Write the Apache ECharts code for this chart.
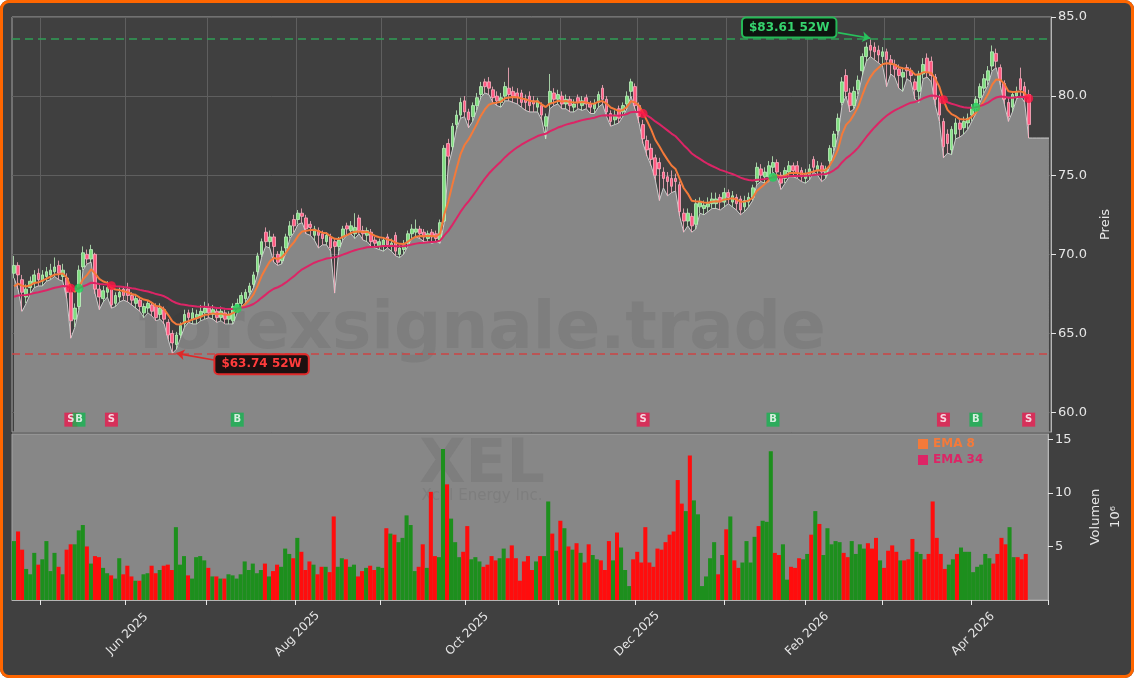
<!DOCTYPE html>
<html>
<head>
<meta charset="utf-8">
<title>XEL</title>
<script src="https://cdn.jsdelivr.net/npm/echarts@6/dist/echarts.min.js"></script>
<style>
  html, body { margin: 0; padding: 0; background: #ffffff; }
  #wrap { position: relative; width: 1134px; height: 678px; }
  #chart { position: absolute; left: 0; top: 0; width: 1134px; height: 678px; background: #404040; border-radius: 9px; }
  #frame { position: absolute; left: 0; top: 0; width: 1134px; height: 678px; box-sizing: border-box;
           border: 3px solid #ff6600; border-radius: 9px; pointer-events: none; }
</style>
</head>
<body>
<div id="wrap"><div id="chart"></div><div id="frame"></div></div>
<script>
// XEL – Kerzen mit EMA 8 / EMA 34, darunter Volumen

// Kerzen je Monat: [open, close, low, high]
const apr25 = [
  [68.8, 69.3, 68.5, 69.9], [69.3, 68.7, 67.8, 69.5], [68.4, 67.6, 66.4, 68.7], [67.3, 67.8, 66.9, 68.1],
  [67.9, 68.3, 67.5, 68.6], [68.2, 68.7, 67.9, 69.0], [68.8, 68.4, 68.0, 69.1]
];
const may25 = [
  [68.3, 68.7, 68.0, 69.0], [68.6, 68.9, 68.3, 69.2], [68.7, 69.0, 68.4, 69.4], [68.9, 69.2, 68.6, 69.8],
  [69.3, 68.8, 68.4, 69.6], [68.6, 69.0, 68.3, 69.4], [68.5, 67.6, 67.2, 68.8], [67.6, 65.8, 64.7, 67.8],
  [65.9, 66.6, 65.4, 66.9], [66.7, 69.0, 66.5, 69.3], [69.2, 70.1, 69.0, 70.5], [70.0, 69.7, 69.4, 70.3],
  [69.7, 70.3, 69.5, 70.6], [70.0, 67.8, 67.5, 70.1], [67.8, 67.3, 66.5, 68.1], [67.2, 67.7, 67.0, 68.0],
  [67.6, 67.9, 67.3, 68.3], [67.8, 66.8, 66.6, 67.9], [66.9, 67.4, 66.7, 67.6], [67.3, 67.6, 67.0, 67.9],
  [67.8, 67.4, 67.1, 68.0]
];
const jun25 = [
  [67.8, 67.4, 67.0, 68.2], [67.4, 67.1, 66.8, 67.6], [66.9, 67.2, 66.6, 67.5], [67.1, 66.7, 66.4, 67.3],
  [66.3, 66.7, 66.0, 66.9], [66.6, 66.9, 66.3, 67.1], [66.8, 66.4, 66.1, 67.0], [66.7, 66.0, 65.8, 66.9],
  [66.2, 66.6, 65.9, 66.9], [66.5, 65.9, 65.6, 66.7], [65.7, 64.9, 64.6, 65.9], [65.0, 64.4, 63.74, 65.2],
  [64.3, 64.9, 64.0, 65.1], [64.9, 65.5, 64.7, 65.7], [65.6, 66.2, 65.4, 66.5], [66.3, 66.0, 65.7, 66.5],
  [65.9, 66.3, 65.6, 66.6], [66.0, 66.2, 65.6, 66.5], [66.1, 66.4, 65.8, 66.8], [66.3, 66.6, 65.9, 67.0]
];
const jul25 = [
  [66.6, 66.3, 66.0, 66.9], [66.2, 66.5, 65.9, 66.8], [66.4, 66.0, 65.7, 66.6], [66.0, 66.4, 65.8, 66.7],
  [66.3, 65.9, 65.6, 66.5], [65.9, 66.2, 65.6, 66.4], [65.8, 66.7, 65.6, 66.9], [66.6, 66.9, 66.3, 67.2],
  [66.9, 67.4, 66.7, 67.6], [67.2, 67.6, 66.9, 67.8], [67.6, 68.0, 67.4, 68.2], [68.1, 68.7, 67.9, 68.9],
  [68.9, 69.9, 68.7, 70.1], [70.0, 70.8, 69.8, 71.0], [71.4, 70.8, 70.5, 71.7], [70.8, 71.1, 70.4, 71.5],
  [71.1, 70.5, 69.5, 71.3], [70.0, 69.5, 69.3, 70.2], [69.6, 70.2, 69.4, 70.5], [70.4, 71.1, 70.1, 71.3],
  [71.2, 71.8, 71.0, 72.1], [72.2, 71.8, 71.4, 72.5]
];
const aug25 = [
  [72.2, 72.6, 71.9, 72.8], [72.6, 72.4, 72.0, 72.9], [72.3, 71.6, 71.3, 72.5], [71.9, 71.7, 71.2, 72.1],
  [71.2, 71.6, 70.9, 71.8], [71.5, 71.2, 70.4, 71.7], [71.3, 71.0, 70.6, 71.5], [70.8, 71.2, 70.6, 71.4],
  [71.1, 70.4, 70.2, 71.3], [70.8, 70.5, 67.55, 71.0], [70.5, 70.9, 70.2, 71.1], [71.1, 71.6, 70.9, 71.8],
  [71.8, 71.6, 71.2, 72.0], [71.5, 71.8, 71.3, 72.1], [71.3, 71.7, 71.0, 72.6], [72.3, 71.5, 71.3, 72.5],
  [71.5, 71.3, 70.9, 71.8], [71.2, 71.5, 70.8, 71.7], [71.4, 70.8, 70.5, 71.6], [70.9, 70.7, 70.4, 71.1],
  [70.5, 70.8, 70.3, 71.0]
];
const sep25 = [
  [70.5, 70.9, 70.2, 71.1], [71.1, 70.6, 70.4, 71.3], [70.5, 70.7, 70.2, 71.0], [71.2, 70.2, 69.9, 71.4],
  [70.0, 70.4, 69.8, 70.6], [70.3, 70.6, 70.0, 70.9], [70.7, 71.3, 70.5, 71.5], [71.3, 71.6, 71.0, 71.9],
  [71.4, 71.6, 71.1, 72.2], [71.6, 71.3, 71.0, 71.8], [71.4, 71.1, 70.8, 71.6], [71.0, 71.3, 70.8, 71.5],
  [71.4, 71.1, 70.7, 71.6], [71.3, 71.0, 70.8, 71.5], [70.9, 72.0, 70.7, 72.2], [72.1, 76.7, 72.0, 76.9],
  [77.0, 76.2, 75.6, 77.3], [76.8, 78.1, 76.6, 78.3], [78.2, 78.8, 77.9, 79.1], [78.8, 79.6, 78.6, 79.9],
  [79.7, 79.0, 78.7, 80.0]
];
const oct25 = [
  [79.0, 78.5, 78.0, 79.2], [78.7, 79.4, 78.4, 79.6], [79.4, 79.9, 79.1, 80.2], [80.1, 80.6, 79.9, 80.9],
  [80.9, 80.6, 80.2, 81.1], [80.9, 80.5, 80.1, 81.2], [80.4, 79.9, 79.6, 80.6], [80.0, 79.7, 79.4, 80.3],
  [79.6, 79.9, 79.3, 80.2], [80.0, 80.6, 79.7, 80.9], [80.5, 80.1, 79.7, 81.8], [80.3, 80.0, 79.6, 80.6],
  [80.2, 79.9, 79.5, 80.5], [80.2, 79.6, 79.3, 80.4], [79.8, 79.6, 79.1, 80.1], [80.0, 79.4, 79.0, 80.3],
  [79.7, 79.5, 79.0, 80.0], [79.3, 79.7, 79.0, 79.9], [79.4, 78.8, 78.5, 79.6], [78.1, 78.7, 77.3, 78.9],
  [79.5, 80.3, 79.2, 81.4], [80.2, 79.8, 79.4, 80.5], [79.8, 80.1, 79.5, 80.4]
];
const nov25 = [
  [80.0, 79.5, 79.2, 80.3], [79.5, 79.8, 79.2, 80.1], [79.8, 79.4, 79.0, 80.0], [79.3, 79.5, 79.0, 79.8],
  [79.9, 79.6, 79.2, 80.1], [79.4, 79.7, 79.1, 80.0], [79.9, 79.5, 79.2, 80.1], [79.5, 79.3, 78.9, 79.7],
  [79.2, 79.5, 78.9, 79.8], [79.6, 80.1, 79.3, 80.3], [80.5, 79.8, 79.5, 80.7], [79.8, 79.0, 78.7, 80.0],
  [78.9, 78.4, 78.1, 79.1], [78.5, 78.8, 78.2, 79.1], [79.2, 78.6, 78.3, 79.4], [79.0, 79.4, 78.7, 79.6],
  [79.5, 80.0, 79.2, 80.3], [80.3, 80.9, 80.0, 81.1], [80.6, 79.4, 79.2, 80.8]
];
const dec25 = [
  [79.4, 78.7, 78.3, 79.6], [78.2, 77.3, 77.0, 78.5], [77.2, 76.6, 76.2, 77.5], [76.7, 76.0, 75.6, 77.0],
  [76.1, 75.0, 74.7, 76.3], [75.8, 75.4, 73.4, 76.1], [75.2, 74.8, 74.2, 75.5], [74.9, 74.6, 73.7, 75.2],
  [74.8, 74.3, 73.9, 75.3], [74.8, 74.6, 74.0, 75.1], [74.4, 72.7, 72.4, 74.6], [72.6, 72.1, 71.4, 72.9],
  [72.1, 72.6, 71.8, 72.9], [72.4, 71.8, 71.4, 72.6], [71.9, 73.2, 71.6, 73.5], [73.0, 73.3, 72.6, 73.6],
  [72.9, 73.1, 72.5, 73.4], [73.0, 73.2, 72.7, 73.6], [73.2, 73.5, 72.9, 73.9], [73.2, 73.5, 72.9, 73.9],
  [73.6, 73.3, 72.8, 73.8], [73.3, 73.9, 73.0, 74.2]
];
const jan26 = [
  [73.9, 73.6, 73.2, 74.1], [73.3, 73.7, 73.0, 74.0], [73.6, 73.2, 72.8, 73.8], [73.5, 72.8, 72.5, 73.7],
  [73.0, 73.4, 72.7, 73.7], [73.3, 73.6, 73.0, 73.9], [73.6, 74.2, 73.4, 74.4], [74.6, 75.5, 74.4, 75.8],
  [75.4, 75.0, 74.6, 75.7], [74.9, 75.2, 74.5, 75.5], [74.9, 75.6, 74.6, 75.9], [75.5, 75.8, 75.2, 76.2],
  [75.8, 75.2, 74.9, 76.0], [75.0, 74.5, 74.1, 75.2], [74.8, 75.3, 74.5, 75.5], [75.2, 75.6, 74.9, 75.9],
  [75.6, 75.3, 74.9, 75.8], [75.6, 75.1, 74.8, 75.9], [75.3, 74.9, 74.6, 75.5], [74.8, 75.1, 74.5, 75.4]
];
const feb26 = [
  [75.0, 75.4, 74.7, 75.7], [76.0, 75.5, 75.2, 76.2], [75.3, 75.6, 75.0, 75.9], [75.6, 75.2, 74.6, 75.8],
  [75.0, 75.4, 74.8, 75.6], [75.9, 76.7, 75.6, 76.9], [76.8, 77.6, 76.5, 77.8], [77.8, 78.6, 77.5, 78.9],
  [79.6, 80.9, 79.4, 81.2], [81.3, 80.3, 80.0, 81.7], [80.2, 79.4, 79.0, 80.5], [79.4, 80.3, 79.2, 80.6],
  [80.4, 81.0, 80.1, 81.3], [81.6, 82.5, 81.3, 82.7], [82.5, 83.1, 82.2, 83.4], [83.2, 82.9, 82.5, 83.61],
  [83.1, 82.8, 82.3, 83.4], [82.9, 82.6, 82.1, 83.2], [82.5, 82.8, 81.9, 83.1]
];
const mar26 = [
  [82.8, 82.3, 80.6, 83.0], [82.3, 82.0, 81.4, 82.6], [82.0, 81.7, 81.2, 82.3], [81.7, 81.3, 80.5, 82.0],
  [81.2, 81.5, 80.3, 81.8], [81.8, 81.6, 81.1, 82.0], [81.6, 81.3, 80.9, 81.8], [80.9, 80.4, 79.8, 81.1],
  [80.3, 81.4, 79.6, 81.6], [81.4, 82.0, 81.1, 82.4], [82.4, 81.5, 81.2, 82.7], [82.2, 81.3, 80.9, 82.5],
  [81.2, 79.8, 79.4, 81.4], [79.9, 78.8, 78.4, 80.1], [78.4, 76.8, 76.1, 78.6], [77.6, 77.0, 76.4, 77.9],
  [76.6, 77.9, 76.3, 78.1], [77.6, 78.3, 77.3, 78.6], [78.3, 77.9, 77.4, 78.5], [78.0, 78.4, 77.6, 78.7],
  [78.3, 78.6, 77.9, 78.9], [78.8, 79.3, 78.4, 79.5]
];
const apr26 = [
  [79.2, 79.8, 78.9, 80.0], [79.9, 80.6, 79.6, 80.8], [80.5, 81.1, 80.2, 81.4], [81.0, 81.6, 80.7, 81.9],
  [81.9, 82.8, 81.6, 83.2], [82.7, 82.2, 81.8, 83.0], [81.8, 81.0, 80.7, 82.0], [80.8, 79.8, 79.5, 81.0],
  [79.6, 78.7, 78.4, 79.9], [79.3, 80.1, 79.0, 80.3], [80.0, 80.3, 79.8, 80.6], [81.1, 80.4, 80.0, 81.8],
  [80.6, 79.9, 79.6, 80.9], [80.1, 78.2, 77.35, 80.4]
];

// Volumen je Monat, in Mio. Stück
const volApr25 = [5.5, 6.4, 4.7, 2.9, 2.4, 4.4, 3.3];
const volMay25 = [3.8, 5.5, 2.7, 4.4, 3.1, 2.4, 4.7, 5.2, 5.2, 6.5, 7.0, 5.0, 3.4, 4.1, 4.0, 3.0, 2.5, 2.3, 2.0, 3.9, 2.4];
const volJun25 = [3.2, 2.2, 1.8, 1.8, 2.4, 2.5, 3.2, 2.5, 2.8, 3.2, 3.3, 2.8, 6.8, 3.3, 4.1, 2.3, 2.0, 4.0, 4.1, 3.7];
const volJul25 = [3.0, 2.2, 2.2, 2.0, 2.0, 2.4, 2.3, 2.0, 2.4, 3.6, 2.8, 3.4, 2.5, 2.8, 3.4, 2.2, 2.7, 3.3, 3.1, 4.8, 4.3, 3.9];
const volAug25 = [5.8, 4.5, 2.8, 3.6, 3.3, 2.4, 3.1, 3.1, 2.6, 7.8, 3.1, 3.9, 3.8, 3.1, 3.3, 2.2, 2.7, 3.0, 3.2, 2.8, 3.1];
const volSep25 = [3.0, 6.7, 6.2, 6.1, 5.4, 5.8, 7.9, 7.0, 2.7, 3.1, 5.2, 3.0, 10.1, 4.1, 4.0, 14.1, 10.8, 7.6, 5.4, 4.0, 4.5];
const volOct25 = [6.9, 3.8, 4.0, 3.6, 3.1, 3.3, 4.1, 3.7, 3.9, 4.8, 3.9, 5.1, 3.9, 1.8, 3.6, 4.1, 2.8, 3.6, 4.1, 4.1, 9.2, 6.2, 4.6];
const volNov25 = [7.4, 6.7, 5.0, 4.7, 5.3, 4.4, 3.5, 5.2, 4.2, 3.8, 3.7, 2.8, 5.5, 3.7, 6.3, 4.9, 2.8, 1.3, 3.8];
const volDec25 = [4.5, 3.5, 6.8, 3.5, 3.1, 4.8, 4.7, 5.4, 6.1, 6.4, 11.2, 9.0, 8.3, 13.5, 9.3, 8.0, 1.3, 2.2, 3.9, 5.4, 2.4, 4.2];
const volJan26 = [6.6, 7.8, 3.7, 3.0, 3.5, 5.5, 3.5, 5.9, 6.9, 7.4, 7.3, 13.9, 4.4, 4.2, 5.2, 1.9, 3.1, 3.0, 3.9, 3.8];
const volFeb26 = [4.3, 6.1, 8.3, 7.1, 4.2, 6.7, 5.2, 5.5, 5.4, 4.4, 4.0, 5.5, 4.3, 5.2, 4.8, 5.3, 4.8, 5.8, 3.7];
const volMar26 = [3.0, 4.6, 5.1, 4.5, 3.7, 3.7, 3.8, 5.7, 4.5, 4.3, 3.8, 4.3, 9.2, 5.8, 4.3, 2.9, 3.3, 3.8, 4.3, 4.9, 4.5, 4.5];
const volApr26 = [2.6, 3.1, 3.3, 4.3, 3.9, 3.4, 4.3, 5.8, 5.2, 6.8, 4.0, 4.0, 3.8, 4.3];

// Achsenbeschriftung
const priceTicks = [60, 65, 70, 75, 80, 85];
const volumeTicks = [5, 10, 15];

// Handelstage
const firstDay = '2025-04-22';
const holidays = ['2025-05-26', '2025-06-19', '2025-07-04', '2025-09-01', '2025-11-27',
                  '2025-12-25', '2026-01-01', '2026-01-19', '2026-02-16', '2026-04-03'];
const padDays = 5;          // leere Tage rechts
const monthNames = ['Jan', 'Feb', 'Mar', 'Apr', 'May', 'Jun', 'Jul', 'Aug', 'Sep', 'Oct', 'Nov', 'Dec'];

// Signale (Index des Handelstags)
const sellSignals = [14, 24, 155, 229, 250];
const buySignals = [16, 55, 187, 237];

// EMA-Startwerte aus der Vorgeschichte
const emaSeed8 = 67.6;
const emaSeed34 = 67.2;

const FONT = 'DejaVu Sans';
const ema8Color = '#f47a3a';
const ema34Color = '#dc2566';
const upColor = '#1d8f1d';
const downColor = '#ff0d0d';

const candles = [].concat(apr25, may25, jun25, jul25, aug25, sep25, oct25, nov25, dec25, jan26, feb26, mar26, apr26);
const volumes = [].concat(volApr25, volMay25, volJun25, volJul25, volAug25, volSep25, volOct25,
                          volNov25, volDec25, volJan26, volFeb26, volMar26, volApr26);
const n = candles.length;

function tradingDays(start, count) {
    const out = [];
    const d = new Date(start + 'T12:00:00Z');
    while (out.length < count) {
        const dow = d.getUTCDay();
        const s = d.toISOString().slice(0, 10);
        if (dow !== 0 && dow !== 6 && holidays.indexOf(s) < 0) out.push(s);
        d.setUTCDate(d.getUTCDate() + 1);
    }
    return out;
}
const dates = tradingDays(firstDay, n + padDays);

function ema(values, period, seed) {
    const k = 2 / (period + 1);
    let prev = seed;
    return values.map(v => (prev = prev + k * (v - prev)));
}

const closes = candles.map(c => c[1]);
const lows = candles.map(c => c[2]);
const highs = candles.map(c => c[3]);
const ema8 = ema(closes, 8, emaSeed8);
const ema34 = ema(closes, 34, emaSeed34);

const high52 = Math.max.apply(null, highs);
const low52 = Math.min.apply(null, lows);
const hiIdx = highs.indexOf(high52);
const loIdx = lows.indexOf(low52);

// Fläche unter den Tiefs, letzter Wert bis zum rechten Rand
const lowArea = lows.concat(new Array(padDays).fill(lows[n - 1]));

const isMonthStart = i => i > 0 && i < n && dates[i].slice(0, 7) !== dates[i - 1].slice(0, 7);
const isLabelMonth = i => isMonthStart(i) && (+dates[i].slice(5, 7)) % 2 === 0;

const signalRow = 59.55;
const signalData = sellSignals.map(i => ({
    value: [dates[i], signalRow], itemStyle: { color: '#ea1a4f' }, label: { formatter: 'S' }
})).concat(buySignals.map(i => ({
    value: [dates[i], signalRow], itemStyle: { color: '#16b451' }, label: { formatter: 'B' }
})));
const crossDots = sellSignals.map(i => ({ value: [dates[i], ema34[i]], itemStyle: { color: '#ff1744' } }))
    .concat(buySignals.map(i => ({ value: [dates[i], ema34[i]], itemStyle: { color: '#1fcf5a' } })));

const volData = volumes.map((v, i) => ({
    value: v,
    itemStyle: { color: candles[i][1] >= candles[i][0] ? upColor : downColor }
}));

const chart = echarts.init(document.getElementById('chart'), null, { renderer: 'canvas' });

chart.setOption({
    animation: false,
    backgroundColor: 'transparent',
    textStyle: { fontFamily: FONT },
    grid: [
        { left: 12, top: 17, width: 1039, height: 415, show: true, backgroundColor: '#404040', borderColor: '#a3a3a3', borderWidth: 1 },
        { left: 12, top: 434, width: 1039, height: 166, show: true, backgroundColor: '#878787', borderColor: '#a3a3a3', borderWidth: 1 }
    ],
    legend: {
        left: 913, top: 433, orient: 'vertical', icon: 'rect', itemWidth: 10, itemHeight: 10, itemGap: 4,
        selectedMode: false,
        textStyle: { fontFamily: FONT, fontWeight: 'bold', fontSize: 12 },
        data: [
            { name: 'EMA 8', textStyle: { color: ema8Color } },
            { name: 'EMA 34', textStyle: { color: ema34Color } }
        ]
    },
    xAxis: [
        {
            type: 'category', gridIndex: 0, data: dates, boundaryGap: true,
            axisLine: { show: false }, axisTick: { show: false }, axisLabel: { show: false },
            splitLine: { show: true, interval: isMonthStart, lineStyle: { color: '#5f5f5f', width: 1 } }
        },
        {
            type: 'category', gridIndex: 1, data: dates, boundaryGap: true,
            axisLine: { show: true, lineStyle: { color: '#b5b5b5' } },
            axisTick: { show: true, interval: isMonthStart, length: 5, lineStyle: { color: '#e6e6e6' } },
            axisLabel: {
                interval: isLabelMonth, rotate: 45, align: 'center', verticalAlign: 'middle',
                color: '#e6e6e6', fontSize: 12, margin: 34,
                formatter: v => monthNames[+v.slice(5, 7) - 1] + ' ' + v.slice(0, 4)
            },
            splitLine: { show: false }
        }
    ],
    yAxis: [
        {
            type: 'value', gridIndex: 0, position: 'right', min: 58.77, max: 85.0, splitNumber: 5,
            axisLine: { show: true, lineStyle: { color: '#b5b5b5' } },
            axisTick: { show: true, length: 5, customValues: priceTicks, lineStyle: { color: '#e6e6e6' } },
            axisLabel: {
                color: '#e6e6e6', fontSize: 13, margin: 7, customValues: priceTicks,
                formatter: v => v.toFixed(1)
            },
            splitLine: { show: true, lineStyle: { color: '#5f5f5f', width: 1 } },
            name: 'Preis', nameLocation: 'middle', nameGap: 48, nameRotate: 90,
            nameTextStyle: { color: '#e6e6e6', fontSize: 13 }
        },
        {
            type: 'value', gridIndex: 1, position: 'right', min: 0, max: 15.5, interval: 5,
            axisLine: { show: true, lineStyle: { color: '#b5b5b5' } },
            axisTick: { show: true, length: 5, customValues: volumeTicks, lineStyle: { color: '#e6e6e6' } },
            axisLabel: {
                color: '#e6e6e6', fontSize: 13, margin: 7, customValues: volumeTicks,
                formatter: v => String(v)
            },
            splitLine: { show: false },
            name: 'Volumen\n10⁶', nameLocation: 'middle', nameGap: 38, nameRotate: 90,
            nameTextStyle: { color: '#e6e6e6', fontSize: 13, lineHeight: 20 }
        }
    ],
    graphic: [
        {
            type: 'text', x: 482, y: 331, z: 2, silent: true,
            style: { text: 'forexsignale.trade', font: 'bold 66px "DejaVu Sans"', fill: 'rgba(45,45,45,0.10)', align: 'center', verticalAlign: 'middle' }
        },
        {
            type: 'text', x: 482, y: 466, z: 2, silent: true,
            style: { text: 'XEL', font: 'bold 60px "DejaVu Sans"', fill: 'rgba(45,45,45,0.10)', align: 'center', verticalAlign: 'middle' }
        },
        {
            type: 'text', x: 482, y: 496, z: 2, silent: true,
            style: { text: 'Xcel Energy Inc.', font: '15px "DejaVu Sans"', fill: 'rgba(45,45,45,0.10)', align: 'center', verticalAlign: 'middle' }
        }
    ],
    series: [
        {
            name: 'Tief', type: 'line', xAxisIndex: 0, yAxisIndex: 0, data: lowArea,
            symbol: 'none', z: 1, silent: true,
            lineStyle: { color: '#cdcdcd', width: 1 },
            areaStyle: { color: '#878787', opacity: 1, origin: 'start' }
        },
        {
            name: 'XEL', type: 'candlestick', xAxisIndex: 0, yAxisIndex: 0, data: candles,
            barWidth: 3.2, z: 3, silent: true,
            itemStyle: {
                color: '#80dd80', color0: '#ff5a82',
                borderColor: '#bff2bf', borderColor0: '#ffb0c2', borderWidth: 0.8
            },
            markLine: {
                silent: true, symbol: ['none', 'none'], animation: false,
                label: { show: false },
                data: [
                    { yAxis: high52, lineStyle: { color: '#2f9f55', type: [8, 5], width: 1.6 } },
                    { yAxis: low52, lineStyle: { color: '#cc4646', type: [8, 5], width: 1.6 } },
                    [
                        { coord: [dates[hiIdx - 8], high52 + 0.4], symbol: 'none', lineStyle: { color: '#28c25c', width: 1.6, type: 'solid' } },
                        { coord: [dates[hiIdx], high52 + 0.05], symbol: 'arrow', symbolSize: 8 }
                    ],
                    [
                        { coord: [dates[loIdx + 12], low52 - 0.5], symbol: 'none', lineStyle: { color: '#e02828', width: 1.6, type: 'solid' } },
                        { coord: [dates[loIdx + 1], low52], symbol: 'arrow', symbolSize: 8 }
                    ]
                ]
            },
            markPoint: {
                silent: true, symbol: 'rect', symbolSize: 1, itemStyle: { color: 'rgba(0,0,0,0)' },
                data: [
                    {
                        coord: [dates[hiIdx - 20], high52 + 0.72],
                        label: {
                            show: true, position: 'inside', formatter: '$' + high52.toFixed(2) + ' 52W',
                            color: '#36d46e', fontWeight: 'bold', fontSize: 12, fontFamily: FONT,
                            backgroundColor: '#0e140f', borderColor: '#25b957', borderWidth: 2, borderRadius: 3, padding: [3, 6]
                        }
                    },
                    {
                        coord: [dates[loIdx + 22], low52 - 0.69],
                        label: {
                            show: true, position: 'inside', formatter: '$' + low52.toFixed(2) + ' 52W',
                            color: '#ff3c3c', fontWeight: 'bold', fontSize: 12, fontFamily: FONT,
                            backgroundColor: '#1c1010', borderColor: '#e02a2a', borderWidth: 2, borderRadius: 3, padding: [3, 6]
                        }
                    }
                ]
            }
        },
        {
            name: 'EMA 8', type: 'line', xAxisIndex: 0, yAxisIndex: 0, data: ema8,
            symbol: 'none', z: 4, silent: true, color: ema8Color,
            lineStyle: { color: ema8Color, width: 2 }
        },
        {
            name: 'EMA 34', type: 'line', xAxisIndex: 0, yAxisIndex: 0, data: ema34,
            symbol: 'none', z: 4, silent: true, color: ema34Color,
            lineStyle: { color: ema34Color, width: 2 }
        },
        {
            name: 'Kreuzung', type: 'scatter', xAxisIndex: 0, yAxisIndex: 0, data: crossDots,
            symbol: 'circle', symbolSize: 9, z: 5, silent: true
        },
        {
            name: 'Signal', type: 'scatter', xAxisIndex: 0, yAxisIndex: 0, data: signalData,
            symbol: 'rect', symbolSize: [13, 14], z: 5, silent: true,
            label: { show: true, position: 'inside', color: '#ffffff', fontWeight: 'bold', fontSize: 10, fontFamily: FONT }
        },
        {
            name: 'Volumen', type: 'bar', xAxisIndex: 1, yAxisIndex: 1, data: volData,
            barCategoryGap: '0%', z: 3, silent: true
        }
    ]
});
</script>
</body>
</html>
